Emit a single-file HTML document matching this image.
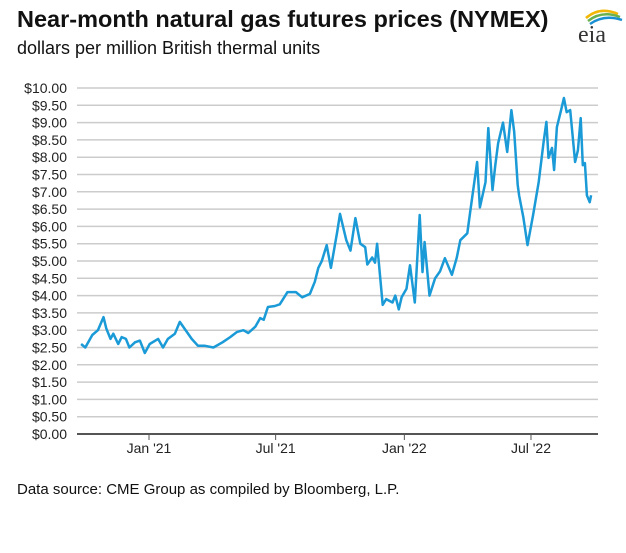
<!DOCTYPE html>
<html><head><meta charset="utf-8">
<style>
body{margin:0;background:#fff;font-family:"Liberation Sans",sans-serif;}
#wrap{position:relative;width:626px;height:553px;overflow:hidden;}
.title{position:absolute;left:17px;top:6px;font-size:23.5px;font-weight:bold;color:#111;white-space:nowrap;}
.sub{position:absolute;left:17px;top:38px;font-size:18px;color:#111;white-space:nowrap;}
.src{position:absolute;left:17px;top:481px;font-size:15px;color:#111;white-space:nowrap;}
</style></head><body>
<div id="wrap">
<div class="title">Near-month natural gas futures prices (NYMEX)</div>
<div class="sub">dollars per million British thermal units</div>
<svg style="position:absolute;left:574px;top:4px" width="50" height="42">
<path d="M12 14 Q26 2 44 10" stroke="#f2b705" stroke-width="2.5" fill="none"/>
<path d="M14 17 Q28 6 46 13" stroke="#6ab04c" stroke-width="2.5" fill="none"/>
<path d="M16 20 Q30 10 48 16" stroke="#1a8fd1" stroke-width="2.5" fill="none"/>
<text x="4" y="38" font-family="Liberation Serif,serif" font-size="24" fill="#333">eia</text>
</svg>
<svg id="plot" style="position:absolute;left:0;top:0" width="626" height="553"></svg>
<div class="src">Data source: CME Group as compiled by Bloomberg, L.P.</div>
</div>
<script>
const days=[-97,-91,-81,-73,-65,-61,-55,-51,-44,-39,-33,-28,-20,-13,-6,1,13,20,27,37,44,54,61,70,80,92,105,116,126,135,142,152,159,164,170,180,187,198,210,219,230,237,242,247,254,260,269,273,282,288,295,302,309,312,319,323,326,334,339,348,352,357,361,368,373,380,387,391,394,401,409,416,423,433,440,445,455,459,469,473,481,485,491,495,499,506,512,518,522,527,529,535,541,549,557,564,568,571,576,579,583,589,593,597,602,609,613,617,620,623,626,630,632];
const prices=[2.6,2.5,2.86,3.0,3.38,3.05,2.75,2.9,2.6,2.8,2.75,2.5,2.65,2.7,2.34,2.6,2.75,2.5,2.75,2.9,3.24,2.95,2.75,2.55,2.55,2.5,2.65,2.8,2.95,3.0,2.92,3.1,3.35,3.3,3.67,3.7,3.75,4.1,4.1,3.95,4.05,4.4,4.8,5.0,5.46,4.8,5.84,6.36,5.6,5.3,6.24,5.5,5.4,4.9,5.1,4.95,5.5,3.73,3.9,3.8,4.0,3.6,3.95,4.2,4.88,3.8,6.33,4.68,5.55,4.0,4.5,4.7,5.08,4.6,5.1,5.6,5.8,6.4,7.86,6.55,7.28,8.84,7.05,7.77,8.4,9.0,8.15,9.36,8.73,7.2,6.9,6.27,5.46,6.33,7.28,8.44,9.02,7.98,8.27,7.63,8.87,9.36,9.71,9.3,9.36,7.86,8.2,9.13,7.77,7.83,6.9,6.7,6.9];
const yTicks=[0,0.5,1,1.5,2,2.5,3,3.5,4,4.5,5,5.5,6,6.5,7,7.5,8,8.5,9,9.5,10];
const xTickDays=[0,181,365,546];
const xTickLabels=["Jan '21","Jul '21","Jan '22","Jul '22"];
const NS="http://www.w3.org/2000/svg";
const svg=document.getElementById('plot');
const y=v=>434-v*34.6;
const x=d=>149+d*0.6996;
function mk(t,a){const e=document.createElementNS(NS,t);for(const k in a)e.setAttribute(k,a[k]);svg.appendChild(e);return e;}
yTicks.forEach(v=>{
 const g=mk('line',{x1:77,x2:598,y1:y(v),y2:y(v),stroke:v===0?'#555555':'#cccccc','stroke-width':v===0?2:1.5});
 
 
 const t=mk('text',{x:67,y:y(v)+5,'text-anchor':'end','font-size':14,fill:'#222','font-family':'Liberation Sans,sans-serif'});
 t.textContent='$'+v.toFixed(2);
 
 
});
xTickDays.forEach((d,i)=>{
 const tk=mk('line',{x1:x(d),x2:x(d),y1:434,y2:440,stroke:'#555','stroke-width':1});
 
 
 const t=mk('text',{x:x(d),y:453,'text-anchor':'middle','font-size':14,fill:'#222','font-family':'Liberation Sans,sans-serif'});
 t.textContent=xTickLabels[i];
 
 
});
const p=mk('polyline',{points:days.map((d,i)=>x(d).toFixed(1)+','+y(prices[i]).toFixed(1)).join(' '),fill:'none',stroke:'#1a9ad6','stroke-width':2.5,'stroke-linejoin':'round'});


</script>
</body></html>
